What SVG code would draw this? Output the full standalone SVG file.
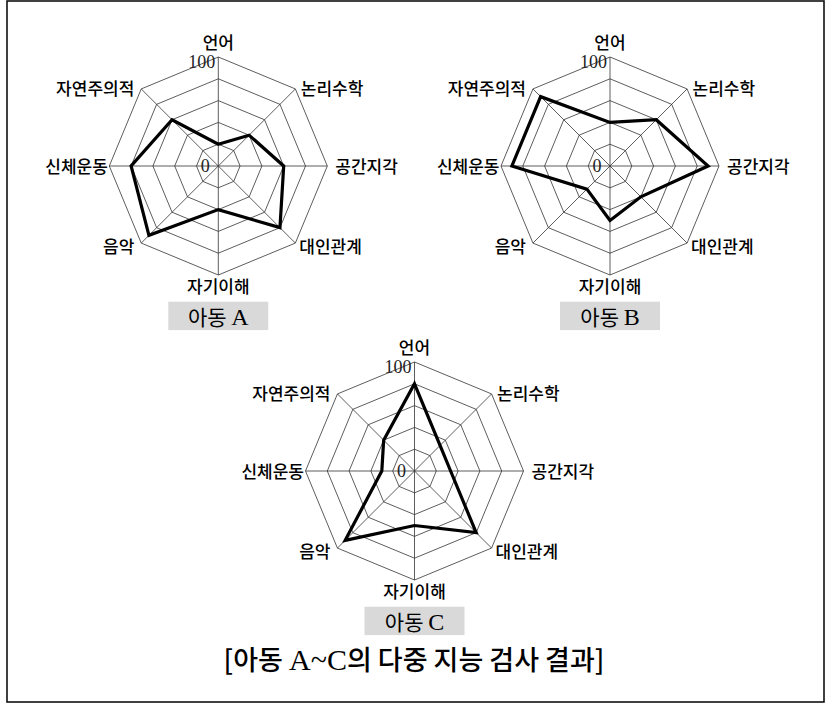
<svg xmlns="http://www.w3.org/2000/svg" xmlns:xlink="http://www.w3.org/1999/xlink" width="832" height="703" viewBox="0 0 832 703">
<style>
.grid{fill:none;stroke:#333;stroke-width:0.8}
.data{fill:none;stroke:#000;stroke-width:3.2;stroke-linejoin:miter}
.lbl{font-family:"Noto Sans CJK KR","Noto Sans",sans-serif;font-size:17px;font-weight:500;fill:#000}
.num{font-family:"Liberation Serif",serif;font-size:18px;fill:#222}
.box{fill:#d9d9d9}
.btxt{font-family:"Noto Sans CJK KR","Noto Sans",sans-serif;font-size:21px;font-weight:400;fill:#000}
.ser{font-family:"Liberation Serif",serif;font-weight:normal}
.bser{font-family:"Liberation Serif",serif;font-size:24px}
.cser{font-family:"Liberation Serif",serif;font-size:30px}
.cap{font-family:"Noto Sans CJK KR","Noto Sans",sans-serif;font-size:27px;font-weight:500;fill:#000}
</style>
<defs>
<g id="web">
<polygon class="grid" points="0,-21.8 15.41,-15.41 21.8,0 15.41,15.41 0,21.8 -15.41,15.41 -21.8,0 -15.41,-15.41"/>
<polygon class="grid" points="0,-43.6 30.83,-30.83 43.6,0 30.83,30.83 0,43.6 -30.83,30.83 -43.6,0 -30.83,-30.83"/>
<polygon class="grid" points="0,-65.4 46.24,-46.24 65.4,0 46.24,46.24 0,65.4 -46.24,46.24 -65.4,0 -46.24,-46.24"/>
<polygon class="grid" points="0,-87.2 61.66,-61.66 87.2,0 61.66,61.66 0,87.2 -61.66,61.66 -87.2,0 -61.66,-61.66"/>
<polygon class="grid" points="0,-109 77.07,-77.07 109,0 77.07,77.07 0,109 -77.07,77.07 -109,0 -77.07,-77.07"/>
<path class="grid" d="M0,-109V109M-109,0H109M-77.07,-77.07L77.07,77.07M77.07,-77.07L-77.07,77.07"/>
<text class="num" x="-3" y="-98.5" text-anchor="end">100</text>
<text class="num" x="-8.5" y="6" text-anchor="end">0</text>
<text class="lbl" x="0" y="-117" text-anchor="middle">언어</text>
<text class="lbl" x="82.5" y="-71.5">논리수학</text>
<text class="lbl" x="117" y="6.5">공간지각</text>
<text class="lbl" x="81" y="86.5">대인관계</text>
<text class="lbl" x="0" y="126.5" text-anchor="middle">자기이해</text>
<text class="lbl" x="-84" y="86.5" text-anchor="end">음악</text>
<text class="lbl" x="-110.5" y="6.5" text-anchor="end">신체운동</text>
<text class="lbl" x="-84" y="-71.5" text-anchor="end">자연주의적</text>
<rect class="box" x="-50" y="135.7" width="100" height="28.4"/>
</g>
</defs>
<rect x="7" y="1" width="817" height="701" fill="#fff" stroke="#111" stroke-width="1.6"/>
<g id="chartA" transform="translate(218.3,166)">
<use xlink:href="#web" href="#web"/>
<polygon class="data" points="0,-21.8 30.83,-30.83 65.4,0 61.66,61.66 0,43.6 -69.37,69.37 -87.2,0 -46.24,-46.24"/>
<text class="btxt" x="0" y="158.5" text-anchor="middle">아동 <tspan class="bser">A</tspan></text>
</g>
<g id="chartB" transform="translate(610,166)">
<use xlink:href="#web" href="#web"/>
<polygon class="data" points="0,-43.6 46.24,-46.24 98.1,0 30.83,30.83 0,54.5 -23.12,23.12 -98.1,0 -69.37,-69.37"/>
<text class="btxt" x="0" y="158.5" text-anchor="middle">아동 <tspan class="bser">B</tspan></text>
</g>
<g id="chartC" transform="translate(414.5,471)">
<use xlink:href="#web" href="#web"/>
<polygon class="data" points="0,-87.2 25.54,-25.54 36.12,0 61.66,61.66 0,54.5 -69.37,69.37 -32.7,0 -30.83,-30.83"/>
<text class="btxt" x="0" y="158.5" text-anchor="middle">아동 <tspan class="bser">C</tspan></text>
</g>
<g id="caption">
<text class="cap" x="414" y="670" text-anchor="middle">[아동 <tspan class="cser">A~C</tspan>의 다중 지능 검사 결과]</text>
</g>
</svg>
